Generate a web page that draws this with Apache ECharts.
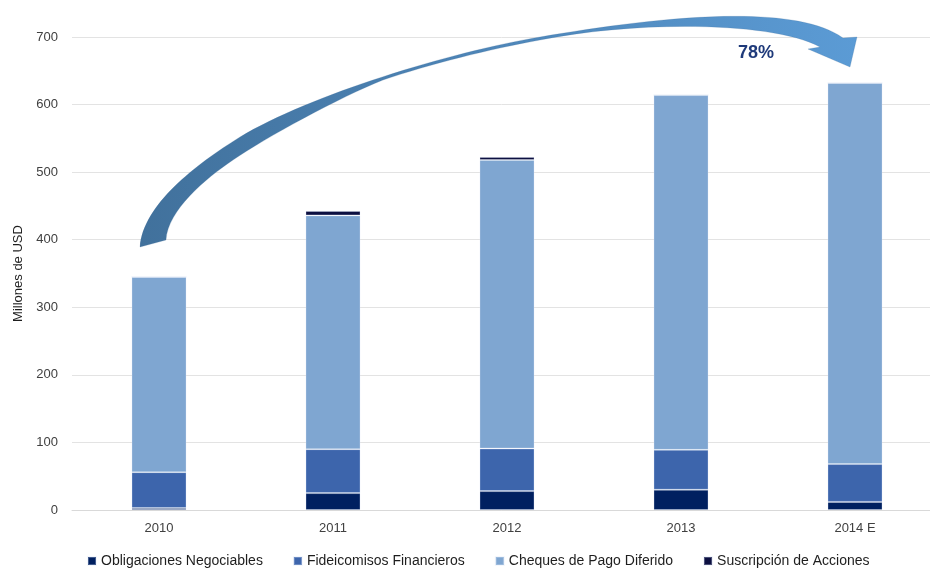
<!DOCTYPE html>
<html>
<head>
<meta charset="utf-8">
<script src="https://cdn.jsdelivr.net/npm/echarts@6/dist/echarts.min.js"></script>
<style>
  html, body { margin: 0; padding: 0; background: #ffffff; }
  #myChart1 { width: 930px; height: 569px; }
</style>
</head>
<body>
<div id="myChart1"></div>
<script>
// data
var years = ['2010', '2011', '2012', '2013', '2014 E'];
var obligaciones = [3, 25, 28, 30, 12];
var fideicomisos = [53, 65, 63, 59, 56];
var cheques = [289, 346, 427, 525, 564];
var suscripcion = [0, 6.5, 4.5, 0, 0];
var crecimiento = '78%';

var fontName = '"Liberation Sans", Arial, sans-serif';

// curved arrow from 2010 to 2014 E (decoration only)
var arrowPath =
  'M140,247 C143,205 195,165 240,137 ' +
  'C310,95 450,52 540,37 ' +
  'C640,20 790,0 843,38 ' +
  'L857,37 L850,67 L808,49 L820,47 ' +
  'C775,22 640,20 540,40 ' +
  'C490,49 430,64 383,80 ' +
  'C340,97 265,138 233,160 ' +
  'C205,179 168,210 166,240 Z';
echarts.graphic.registerShape('curvedArrow', echarts.graphic.extendPath(arrowPath, {}));

function barSeries(name, data, color) {
  return {
    name: name,
    type: 'bar',
    stack: 'total',
    barWidth: 55,
    data: data,
    itemStyle: {
      color: color,
      borderColor: 'rgba(220,230,245,0.3)',
      borderWidth: 1
    }
  };
}

var myChart = echarts.init(document.getElementById('myChart1'));
var option = {
  backgroundColor: '#ffffff',
  animation: false,
  textStyle: { fontFamily: fontName },
  grid: {
    left: 72,
    top: 37,
    width: 870,
    height: 473,
    outerBoundsMode: 'none'
  },
  legend: {
    top: 549,
    left: 82,
    itemWidth: 8,
    itemHeight: 8,
    itemGap: 30,
    icon: 'rect',
    textStyle: { color: '#1e1e1e', fontSize: 14, fontFamily: fontName },
    data: ['Obligaciones Negociables', 'Fideicomisos Financieros', 'Cheques de Pago Diferido', 'Suscripción de Acciones']
  },
  xAxis: {
    type: 'category',
    data: years,
    axisLine: { lineStyle: { color: '#d9d9d9' } },
    axisTick: { show: false },
    axisLabel: { color: '#404040', fontSize: 13, margin: 12 }
  },
  yAxis: {
    type: 'value',
    min: 0,
    max: 700,
    interval: 100,
    name: 'Millones de USD',
    nameLocation: 'middle',
    nameGap: 47,
    nameTextStyle: { color: '#1e1e1e', fontSize: 13 },
    axisLine: { show: false },
    axisTick: { show: false },
    axisLabel: { color: '#404040', fontSize: 13, margin: 14 },
    splitLine: { lineStyle: { color: '#e3e3e3' } }
  },
  series: [
    barSeries('Obligaciones Negociables', obligaciones, '#002060'),
    barSeries('Fideicomisos Financieros', fideicomisos, '#3d65ac'),
    barSeries('Cheques de Pago Diferido', cheques, '#7fa6d1'),
    barSeries('Suscripción de Acciones', suscripcion, '#0c0f40')
  ],
  graphic: [
    {
      type: 'curvedArrow',
      z: 100,
      style: {
        fill: new echarts.graphic.LinearGradient(0, 0, 1, 0, [
          { offset: 0, color: '#41719c' },
          { offset: 1, color: '#5b9bd5' }
        ]),
        stroke: 'rgba(65,113,156,0.35)',
        lineWidth: 0.6
      }
    },
    {
      type: 'text',
      z: 100,
      left: 738,
      top: 44,
      style: {
        text: crecimiento,
        fill: '#1f3a7a',
        font: 'bold 18px "Liberation Sans Narrow", "Liberation Sans", Arial, sans-serif'
      }
    }
  ]
};
myChart.setOption(option, true);
</script>
</body>
</html>
